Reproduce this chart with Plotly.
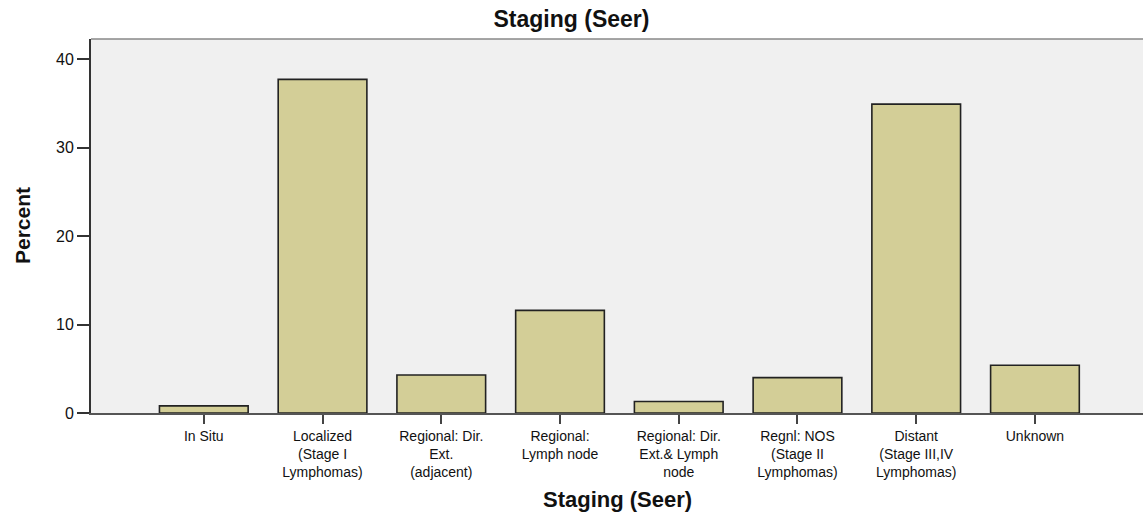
import plotly.graph_objects as go

# Staging (Seer) distribution, percent of cases
categories = [
    "In Situ",
    "Localized (Stage I Lymphomas)",
    "Regional: Dir. Ext. (adjacent)",
    "Regional: Lymph node",
    "Regional: Dir. Ext.& Lymph node",
    "Regnl: NOS (Stage II Lymphomas)",
    "Distant (Stage III,IV Lymphomas)",
    "Unknown",
]
tick_labels = [
    "In Situ",
    "Localized<br>(Stage I<br>Lymphomas)",
    "Regional: Dir.<br>Ext.<br>(adjacent)",
    "Regional:<br>Lymph node",
    "Regional: Dir.<br>Ext.& Lymph<br>node",
    "Regnl: NOS<br>(Stage II<br>Lymphomas)",
    "Distant<br>(Stage III,IV<br>Lymphomas)",
    "Unknown",
]
percent = [0.8, 37.7, 4.3, 11.6, 1.3, 4.0, 34.9, 5.4]
y_ticks = [0, 10, 20, 30, 40]

FONT = "Liberation Sans, Arial, sans-serif"

fig = go.Figure(
    go.Bar(
        x=categories,
        y=percent,
        marker=dict(color="#d3ce97", line=dict(color="#222222", width=1.6)),
        hoverinfo="x+y",
    )
)

fig.update_layout(
    width=1143,
    height=515,
    margin=dict(l=91, r=0, t=39, b=102),
    paper_bgcolor="white",
    plot_bgcolor="#f0f0f0",
    bargap=0.253,
    showlegend=False,
    font=dict(family=FONT, color="#111111"),
    title=dict(
        text="<b>Staging (Seer)</b>",
        x=0.5,
        xanchor="center",
        y=1 - 19 / 515,
        yanchor="middle",
        font=dict(size=23, family=FONT, color="#111111"),
    ),
    xaxis=dict(
        type="category",
        range=[-0.95, 7.91],
        tickvals=categories,
        ticktext=tick_labels,
        ticks="outside",
        ticklen=9,
        tickwidth=2,
        tickcolor="#444444",
        showline=True,
        linecolor="#555555",
        linewidth=2,
        showgrid=False,
        tickfont=dict(size=14, family=FONT, color="#111111"),
    ),
    yaxis=dict(
        range=[0, 42.26],
        tickvals=y_ticks,
        ticks="outside",
        ticklen=12,
        tickwidth=2,
        tickcolor="#333333",
        showline=True,
        linecolor="#333333",
        linewidth=2,
        showgrid=False,
        zeroline=False,
        tickfont=dict(size=16, family=FONT, color="#111111"),
    ),
    shapes=[
        dict(
            type="line", xref="paper", yref="paper",
            x0=0, x1=1, y0=1, y1=1,
            line=dict(color="#888888", width=1.5),
        )
    ],
    annotations=[
        dict(
            text="<b>Percent</b>",
            xref="paper", yref="paper",
            x=-69 / 1052, y=0.5,
            xanchor="center", yanchor="middle",
            textangle=-90, showarrow=False,
            font=dict(size=21, family=FONT, color="#111111"),
        ),
        dict(
            text="<b>Staging (Seer)</b>",
            xref="paper", yref="paper",
            x=0.5, y=-86 / 374,
            xanchor="center", yanchor="middle",
            showarrow=False,
            font=dict(size=22, family=FONT, color="#111111"),
        ),
    ],
)

fig.write_html("out.html")
